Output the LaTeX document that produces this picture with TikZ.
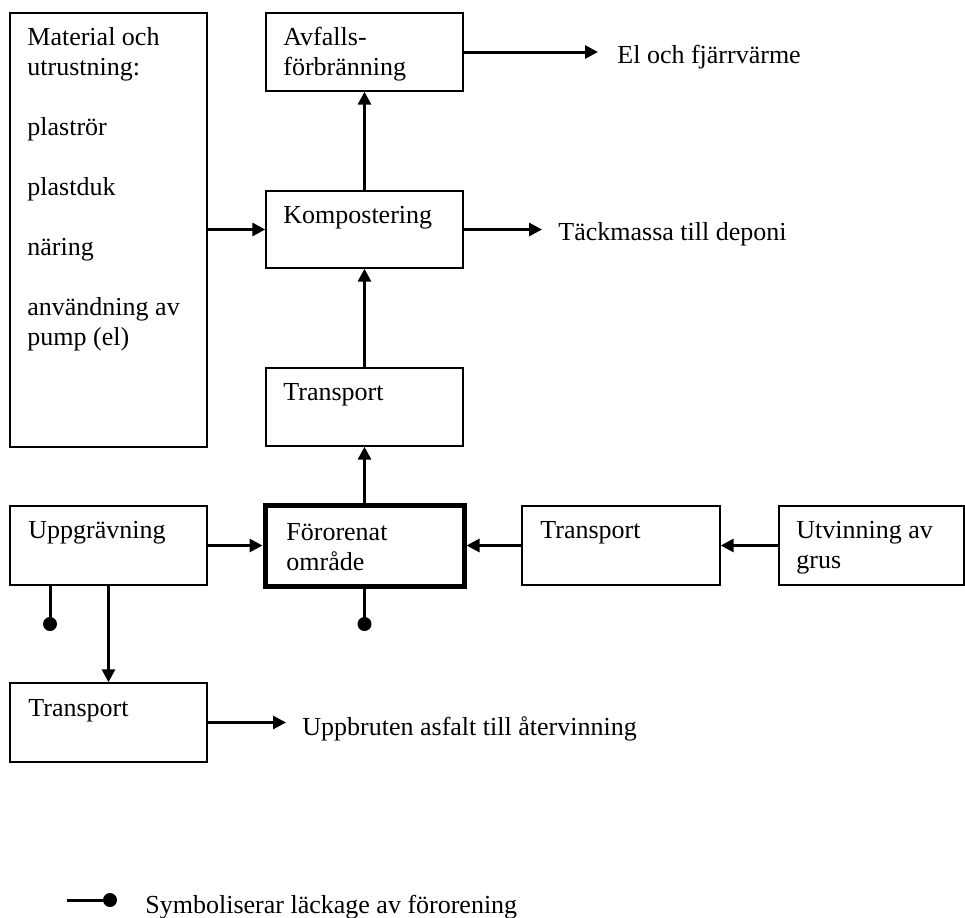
\documentclass[tikz,border=0pt]{standalone}
\usepackage{fontspec}
\setmainfont{Liberation Serif}
\usetikzlibrary{arrows.meta,calc}
\begin{document}
\begin{tikzpicture}[x=0.5pt,y=-0.5pt,
  every node/.style={font=\fontsize{13}{15}\selectfont},
  box/.style={draw,line width=0.7pt,rectangle,inner sep=0pt,minimum width=98.5pt,minimum height=39pt},
  bigbox/.style={box,line width=2.5pt},
  txt/.style={anchor=base west,inner sep=0pt},
  arr/.style={line width=1.5pt,-{Triangle[length=6.5pt,width=6.5pt]}},
  leak/.style={line width=1.5pt},
  dot/.style={fill=black}]
\useasboundingbox (0,0) rectangle (965,917);
% boxes
\node[box,minimum height=217pt] (mat) at (108.5,230) {};
\node[box] (av) at (364.5,52) {};
\node[box,minimum height=38.5pt] (kom) at (364.5,229.5) {};
\node[box] (tr1) at (364.5,407) {};
\node[box,minimum height=39.5pt] (upp) at (108.5,545.5) {};
\node[bigbox,minimum width=99.5pt,minimum height=40.5pt] (for) at (364.5,545.5) {};
\node[box,minimum width=99pt,minimum height=39.5pt] (tr2) at (621,545.5) {};
\node[box,minimum width=92.5pt,minimum height=39.5pt] (utv) at (871.5,545.5) {};
\node[box,minimum height=39.5pt] (tr3) at (108.5,722.5) {};
% box texts
\node[txt] (matt) at (27,45) {\begin{tabular}[t]{@{}l@{}}Material och\\utrustning:\\[15pt]plaströr\\[15pt]plastduk\\[15pt]näring\\[15pt]användning av\\pump (el)\end{tabular}};
\node[txt] (avt) at (283,45) {\begin{tabular}[t]{@{}l@{}}Avfalls-\\förbränning\end{tabular}};
\node[txt] (komt) at (283,223) {Kompostering};
\node[txt] (tr1t) at (283,400) {Transport};
\node[txt] (uppt) at (28,538) {Uppgrävning};
\node[txt] (fort) at (286,540) {\begin{tabular}[t]{@{}l@{}}Förorenat\\område\end{tabular}};
\node[txt] (tr2t) at (540,538) {Transport};
\node[txt] (utvt) at (796,538) {\begin{tabular}[t]{@{}l@{}}Utvinning av\\grus\end{tabular}};
\node[txt] (tr3t) at (28,716) {Transport};
% outputs
\node[txt] (el) at (617,63) {El och fjärrvärme};
\node[txt] (tack) at (558,240) {Täckmassa till deponi};
\node[txt] (asf) at (302,735) {Uppbruten asfalt till återvinning};
\node[txt] (leg) at (145,913) {Symboliserar läckage av förorening};
\coordinate (elend) at (598,52);
\coordinate (tackend) at (542,229.5);
\coordinate (asfend) at (286,722.5);
\coordinate (leak1) at (50,624);
\coordinate (leak2) at (364.5,624);
\coordinate (legA) at (67,900);
\coordinate (legB) at (110,900);
% connectors
\draw[arr] (mat.east |- kom.west) -- (kom.west);
\draw[arr] (av.east) -- (elend);
\draw[arr] (kom.east) -- (tackend);
\draw[arr] (tr1.north) -- (kom.south);
\draw[arr] (kom.north) -- (av.south);
\draw[arr] (for.north) -- (tr1.south);
\draw[arr] (upp.east) -- (for.west);
\draw[arr] (tr2.west) -- (for.east);
\draw[arr] (utv.west) -- (tr2.east);
\draw[arr] (upp.south) -- (tr3.north);
\draw[arr] (tr3.east) -- (asfend);
\draw[leak] (leak1 |- upp.south) -- (leak1);
\fill[dot] (leak1) circle (3.5pt);
\draw[leak] (for.south) -- (leak2);
\fill[dot] (leak2) circle (3.5pt);
\draw[leak] (legA) -- (legB);
\fill[dot] (legB) circle (3.5pt);
\end{tikzpicture}
\end{document}
